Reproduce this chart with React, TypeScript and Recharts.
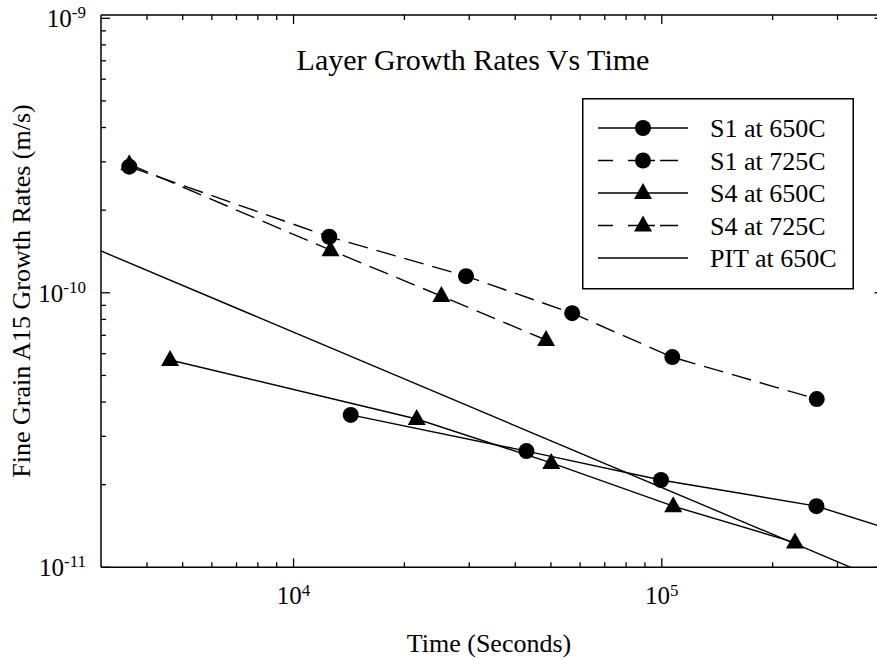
import React from "react";
import { LineChart, Line, XAxis, YAxis, Legend } from "recharts";

// time in seconds, growth rate in m/s
const s1At650Time = [14300, 42900, 99500, 263000, 400000];
const s1At650Rate = [3.59e-11, 2.65e-11, 2.08e-11, 1.67e-11, 1.4e-11];

const s1At725Time = [3580, 12500, 29400, 57100, 106800, 263500];
const s1At725Rate = [2.88e-10, 1.6e-10, 1.15e-10, 8.43e-11, 5.83e-11, 4.1e-11];

const s4At650Time = [4620, 21600, 50100, 107400, 230000];
const s4At650Rate = [5.69e-11, 3.47e-11, 2.4e-11, 1.67e-11, 1.23e-11];

const s4At725Time = [3580, 12600, 25200, 48500];
const s4At725Rate = [2.94e-10, 1.43e-10, 9.73e-11, 6.73e-11];

const pitTime = [3000, 326000];
const pitRate = [1.42e-10, 1e-11];

const xTicks = [
  4000, 5000, 6000, 7000, 8000, 9000, 10000,
  20000, 30000, 40000, 50000, 60000, 70000, 80000, 90000, 100000,
  200000, 300000,
];
const yTicks = [
  1e-11, 2e-11, 3e-11, 4e-11, 5e-11, 6e-11, 7e-11, 8e-11, 9e-11,
  1e-10, 2e-10, 3e-10, 4e-10, 5e-10, 6e-10, 7e-10, 8e-10, 9e-10, 1e-9,
];

const legendNames = ["S1 at 650C", "S1 at 725C", "S4 at 650C", "S4 at 725C", "PIT at 650C"];

const zip = (t: number[], r: number[]) => t.map((v, i) => ({ t: v, rate: r[i] }));

const FONT = "'Liberation Serif', 'Times New Roman', serif";
const DASH = "20 9";

const isMajor = (v: number) => Math.abs(Math.log10(v) - Math.round(Math.log10(v))) < 1e-6;
const expOf = (v: number) => Math.round(Math.log10(v));

const Circle = (props: any) => {
  const { cx, cy, index } = props;
  if (cx == null || cy == null) return null;
  return <circle key={index} cx={cx} cy={cy} r={8} fill="#000" />;
};

const Triangle = (props: any) => {
  const { cx, cy, index } = props;
  if (cx == null || cy == null) return null;
  return (
    <polygon
      key={index}
      points={`${cx},${cy - 10} ${cx - 9},${cy + 6} ${cx + 9},${cy + 6}`}
      fill="#000"
    />
  );
};

// last point of S1 650C is only where the line leaves the frame
const CircleNoTail = (props: any) => {
  if (props.index === s1At650Time.length - 1) return <g key={props.index} />;
  return Circle(props);
};

const BottomTick = ({ x, y, payload }: any) => {
  const v = payload.value;
  const major = isMajor(v);
  return (
    <g>
      <line x1={x} x2={x} y1={y} y2={y - (major ? 9 : 5)} stroke="#000" strokeWidth={1.3} />
      {major && (
        <text x={x} y={y + 37} textAnchor="middle" fontFamily={FONT} fontSize={25} fill="#000">
          10<tspan dy={-8} fontSize={17}>{expOf(v)}</tspan>
        </text>
      )}
    </g>
  );
};

const TopTick = ({ x, y, payload }: any) => (
  <line x1={x} x2={x} y1={y} y2={y + (isMajor(payload.value) ? 9 : 5)} stroke="#000" strokeWidth={1.3} />
);

const LeftTick = ({ x, y, payload }: any) => {
  const v = payload.value;
  const major = isMajor(v);
  return (
    <g>
      <line x1={x} x2={x + (major ? 9 : 5)} y1={y} y2={y} stroke="#000" strokeWidth={1.3} />
      {major && (
        <text x={x - 15} y={y + 9} textAnchor="end" fontFamily={FONT} fontSize={25} fill="#000">
          10<tspan dy={-9} fontSize={17}>{expOf(v)}</tspan>
        </text>
      )}
    </g>
  );
};

const RightTick = ({ x, y, payload }: any) => (
  <line x1={x} x2={x - (isMajor(payload.value) ? 9 : 5)} y1={y} y2={y} stroke="#000" strokeWidth={1.3} />
);

const LegendBox = () => {
  const rowY = (i: number) => 30 + i * 32.5;
  return (
    <svg width={272} height={192} style={{ display: "block" }}>
      <rect x={0.75} y={0.75} width={270.5} height={190} fill="#fff" stroke="#000" strokeWidth={1.5} />
      {legendNames.map((name, i) => {
        const y = rowY(i);
        const dashed = i === 1 || i === 3;
        return (
          <g key={name}>
            <line
              x1={16}
              x2={106}
              y1={y}
              y2={y}
              stroke="#000"
              strokeWidth={1.4}
              strokeDasharray={dashed ? "15 15 27 5 18 10" : undefined}
            />
            {(i === 0 || i === 1) && <circle cx={61} cy={y} r={8} fill="#000" />}
            {(i === 2 || i === 3) && (
              <polygon points={`61,${y - 10} 52,${y + 6} 70,${y + 6}`} fill="#000" />
            )}
            <text x={128} y={y + 9} fontFamily={FONT} fontSize={26} fill="#000">
              {name}
            </text>
          </g>
        );
      })}
    </svg>
  );
};

export default function App() {
  const W = 890;
  const H = 660;
  return (
    <div style={{ position: "fixed", left: 0, top: 0, width: 877, height: 660, overflow: "hidden", background: "#fff" }}>
      <LineChart width={W} height={H} margin={{ top: 14, right: 5.5, bottom: 32.7, left: 41 }}>
        <XAxis
          dataKey="t"
          type="number"
          scale="log"
          domain={[3000, 400000]}
          allowDataOverflow
          ticks={xTicks}
          interval={0}
          tick={<BottomTick />}
          tickLine={false}
          tickSize={0}
          tickMargin={0}
          height={60}
          axisLine={{ stroke: "#000", strokeWidth: 1.5 }}
          label={{
            content: () => (
              <text x={489} y={652} textAnchor="middle" fontFamily={FONT} fontSize={26} fill="#000">
                Time (Seconds)
              </text>
            ),
          }}
        />
        <XAxis
          xAxisId="top"
          orientation="top"
          dataKey="t"
          type="number"
          scale="log"
          domain={[3000, 400000]}
          allowDataOverflow
          ticks={xTicks}
          interval={0}
          tick={<TopTick />}
          tickLine={false}
          tickSize={0}
          tickMargin={0}
          height={1}
          axisLine={{ stroke: "#000", strokeWidth: 1.5 }}
        />
        <YAxis
          dataKey="rate"
          type="number"
          scale="log"
          domain={[1e-11, 1.028e-9]}
          allowDataOverflow
          ticks={yTicks}
          interval={0}
          tick={<LeftTick />}
          tickLine={false}
          tickSize={0}
          tickMargin={0}
          width={60}
          axisLine={{ stroke: "#000", strokeWidth: 1.5 }}
          label={{
            content: () => (
              <text
                x={30}
                y={291}
                transform="rotate(-90 30 291)"
                textAnchor="middle"
                fontFamily={FONT}
                fontSize={26}
                fill="#000"
              >
                Fine Grain A15 Growth Rates (m/s)
              </text>
            ),
          }}
        />
        <YAxis
          yAxisId="right"
          orientation="right"
          dataKey="rate"
          type="number"
          scale="log"
          domain={[1e-11, 1.028e-9]}
          allowDataOverflow
          ticks={yTicks}
          interval={0}
          tick={<RightTick />}
          tickLine={false}
          tickSize={0}
          tickMargin={0}
          width={1}
          axisLine={{ stroke: "#000", strokeWidth: 1.5 }}
        />
        <Legend
          layout="horizontal"
          verticalAlign="middle"
          align="center"
          content={<LegendBox />}
          wrapperStyle={{ position: "absolute", left: 582, top: 98, width: 272, height: 192 }}
        />
        <Line data={zip(pitTime, pitRate)} dataKey="rate" stroke="#000" strokeWidth={1.4} dot={false} isAnimationActive={false} />
        <Line data={zip(s1At650Time, s1At650Rate)} dataKey="rate" stroke="#000" strokeWidth={1.4} dot={CircleNoTail} isAnimationActive={false} />
        <Line data={zip(s1At725Time, s1At725Rate)} dataKey="rate" stroke="#000" strokeWidth={1.4} strokeDasharray={DASH} dot={Circle} isAnimationActive={false} />
        <Line data={zip(s4At650Time, s4At650Rate)} dataKey="rate" stroke="#000" strokeWidth={1.4} dot={Triangle} isAnimationActive={false} />
        <Line data={zip(s4At725Time, s4At725Rate)} dataKey="rate" stroke="#000" strokeWidth={1.4} strokeDasharray={DASH} dot={Triangle} isAnimationActive={false} />
      </LineChart>
      <svg width={877} height={660} style={{ position: "absolute", left: 0, top: 0, pointerEvents: "none" }}>
        <text x={473} y={70} textAnchor="middle" fontFamily={FONT} fontSize={30} fill="#000">
          Layer Growth Rates Vs Time
        </text>
      </svg>
    </div>
  );
}
